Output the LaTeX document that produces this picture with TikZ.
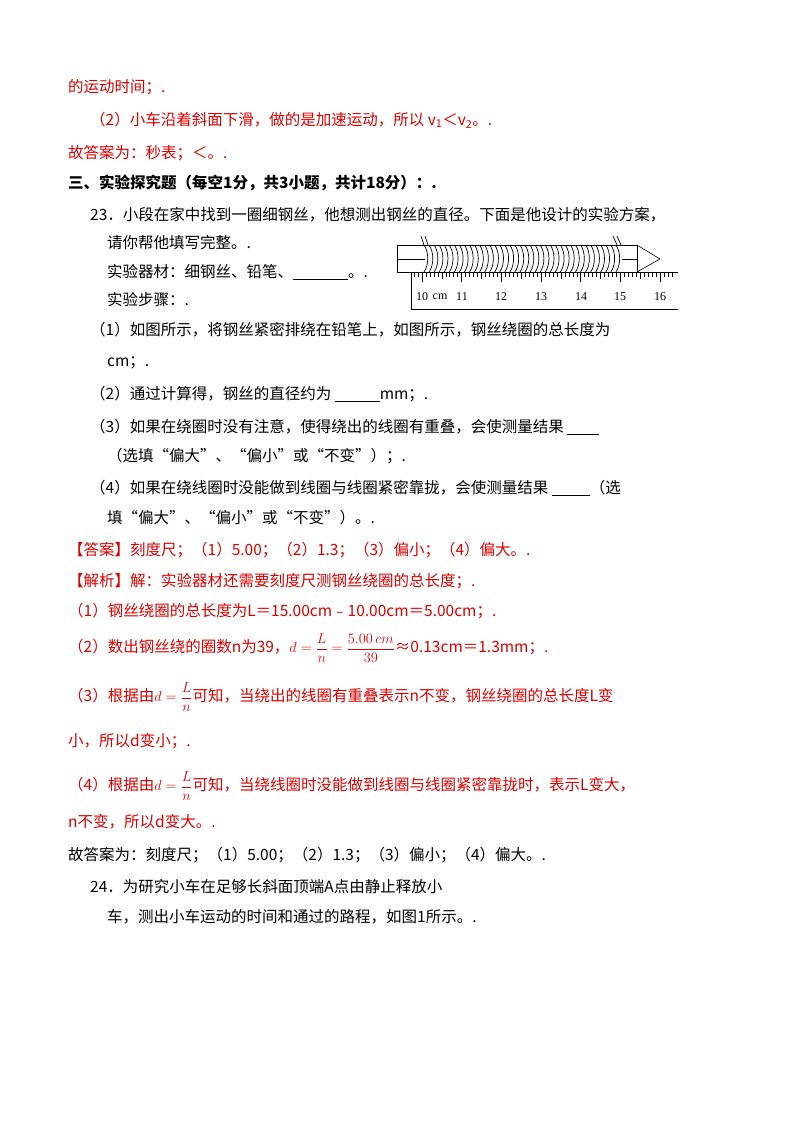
\documentclass[tikz,border=0pt]{standalone}
\usepackage{amsmath}
\usepackage{fontspec}
\setmainfont{Liberation Serif}
\newfontfamily\cjk{Noto Sans CJK SC}
\begin{document}
\begin{tikzpicture}[x=1pt,y=-1pt,
 t/.style={anchor=west,inner sep=0pt,font=\fontsize{15.5}{18}\selectfont\cjk},
 r/.style={t,text=red!85!black},
 b/.style={t,font=\fontsize{15.5}{18}\selectfont\cjk\bfseries},
 lab/.style={inner sep=0pt,font=\fontsize{12}{14}\selectfont}]
\useasboundingbox (0,0) rectangle (800,1132);
\node[r] (l1) at (68,87) {的运动时间；.};
\node[r] (l2) at (90,120) {（2）小车沿着斜面下滑，做的是加速运动，所以 v\textsubscript{1}＜v\textsubscript{2}。.};
\node[r] (l3) at (68,153) {故答案为：秒表；＜。.};
\node[b] (l4) at (68,183) {三、实验探究题（每空1分，共3小题，共计18分）：.};
\node[t] (l5) at (90,215) {23．小段在家中找到一圈细钢丝，他想测出钢丝的直径。下面是他设计的实验方案，};
\node[t] (l6) at (107,243) {请你帮他填写完整。.};
\node[t] (l7) at (107,272) {实验器材：细钢丝、铅笔、\underline{\hspace{55pt}}。.};
\node[t] (l8) at (107,300) {实验步骤：.};
\node[t] (l9) at (90,330) {（1）如图所示，将钢丝紧密排绕在铅笔上，如图所示，钢丝绕圈的总长度为};
\node[t] (l10) at (107,363) {cm；.};
\node[t] (l11) at (90,394) {（2）通过计算得，钢丝的直径约为 \underline{\hspace{45pt}}mm；.};
\node[t] (l12) at (90,427) {（3）如果在绕圈时没有注意，使得绕出的线圈有重叠，会使测量结果 \underline{\hspace{32pt}}};
\node[t] (l13) at (107,456) {（选填“偏大”、“偏小”或“不变”）；.};
\node[t] (l14) at (90,488) {（4）如果在绕线圈时没能做到线圈与线圈紧密靠拢，会使测量结果 \underline{\hspace{38pt}}（选};
\node[t] (l15) at (107,518) {填“偏大”、“偏小”或“不变”）。.};
\node[r] (l16) at (68,550) {【答案】刻度尺；（1）5.00；（2）1.3；（3）偏小；（4）偏大。.};
\node[r] (l17) at (68,581) {【解析】解：实验器材还需要刻度尺测钢丝绕圈的总长度；.};
\node[r] (l18) at (68,611) {（1）钢丝绕圈的总长度为L＝15.00cm﹣10.00cm＝5.00cm；.};
\node[r] (l19) at (68,648) {（2）数出钢丝绕的圈数n为39，\(d=\dfrac{L}{n}=\dfrac{5.00\,cm}{39}\)≈0.13cm＝1.3mm；.};
\node[r] (l20) at (68,697) {（3）根据由\(d=\dfrac{L}{n}\)可知，当绕出的线圈有重叠表示n不变，钢丝绕圈的总长度L变};
\node[r] (l21) at (68,741) {小，所以d变小；.};
\node[r] (l22) at (68,786) {（4）根据由\(d=\dfrac{L}{n}\)可知，当绕线圈时没能做到线圈与线圈紧密靠拢时，表示L变大，};
\node[r] (l23) at (68,822) {n不变，所以d变大。.};
\node[t] (l24) at (68,855) {故答案为：刻度尺；（1）5.00；（2）1.3；（3）偏小；（4）偏大。.};
\node[t] (l25) at (90,887) {24．为研究小车在足够长斜面顶端A点由静止释放小};
\node[t] (l26) at (107,917) {车，测出小车运动的时间和通过的路程，如图1所示。.};
% pencil
\draw[line width=0.6pt] (397,245) rectangle (637,272);
\draw[line width=0.6pt] (397,259) -- (425,259) (622,259) -- (637,259);
\draw[line width=0.6pt] (637,245) -- (660,259) -- (637,272);
\foreach \i in {0,...,38}{
  \pgfmathsetmacro\xx{424+\i*5.05}
  \draw[line width=0.7pt] (\xx,245) .. controls (\xx+5,252) and (\xx+5,265) .. (\xx,272);
}
\draw[line width=0.7pt] (421,236) -- (424,245) (425,236) -- (428,245);
\draw[line width=0.7pt] (613,236) -- (617,245) (617,236) -- (621,245);
% ruler
\draw[line width=0.6pt] (678,272) -- (411,272) -- (411,309) -- (678,309);
\foreach \k in {0,...,65}{
  \pgfmathsetmacro\xx{414+\k*3.97}
  \pgfmathsetmacro\len{ifthenelse(mod(\k+8,10)==0,10,ifthenelse(mod(\k+8,5)==0,7,4.5))}
  \draw[line width=0.5pt] (\xx,272) -- ++(0,\len);
}
\foreach \c/\xx in {10/422,11/462,12/501,13/541,14/581,15/620,16/660}
  \node[lab] (n\c) at (\xx,297) {\c};
\node[lab] (cm) at (440,297) {cm};
\end{tikzpicture}
\end{document}
